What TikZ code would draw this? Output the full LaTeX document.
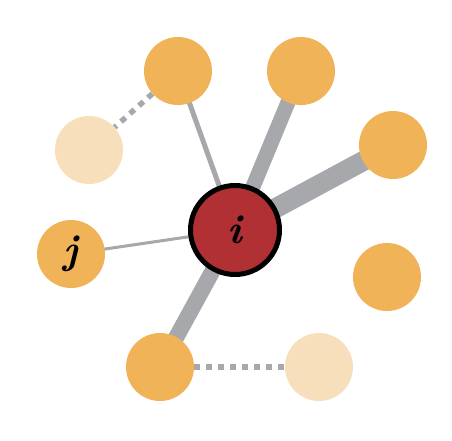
\documentclass[tikz,border=0pt]{standalone}
\usepackage{fontspec}
\usepackage{tikz}
\usetikzlibrary{backgrounds}
\definecolor{nbred}{RGB}{176,48,52}
\definecolor{nborange}{RGB}{240,179,87}
\definecolor{nbpale}{RGB}{248,223,188}
\definecolor{nbgray}{RGB}{167,168,172}
\tikzset{
  nbr/.style={circle, fill=nborange, draw=none, minimum size=68pt, inner sep=0pt,
              font=\fontsize{41}{41}\selectfont\bfseries\itshape},
  far/.style={circle, fill=nbpale, draw=none, minimum size=68pt, inner sep=0pt},
  wedge/.style={draw=nbgray, line width=#1},
  hop/.style={draw=nbgray, line width=5.5pt, dash pattern=on 6pt off 6pt},
}
\begin{document}
\begin{tikzpicture}[x=1pt, y=-1pt,
        ctr/.style={circle, fill=nbred, draw=black, line width=5pt,
                    minimum size=89pt, inner sep=0pt,
                    font=\fontsize{41}{41}\selectfont\bfseries\itshape}]
        \useasboundingbox (0,0) rectangle (452,440);
        % centre node and its neighbours
        \node[ctr] (i) at (235,230) {i};
        \node[nbr] (n1) at (178,71) {};
        \node[nbr] (n2) at (301,71) {};
        \node[nbr] (n3) at (393,145) {};
        \node[nbr] (j) at (71,254) {j};
        \node[nbr] (n5) at (387,277) {};
        \node[nbr] (n6) at (160,367) {};
        % two-hop nodes
        \node[far] (m1) at (89,150) {};
        \node[far] (m2) at (319,367) {};
        \begin{scope}[on background layer]
          \draw[wedge=5pt] (i.center) -- (n1.center);
          \draw[wedge=15pt] (i.center) -- (n2.center);
          \draw[wedge=20pt] (i.center) -- (n3.center);
          \draw[wedge=3pt] (i.center) -- (j.center);
          \draw[wedge=16pt] (i.center) -- (n6.center);
          \draw[hop] (n1) -- (m1);
          \draw[hop] (n6) -- (m2);
        \end{scope}
\end{tikzpicture}
\end{document}
